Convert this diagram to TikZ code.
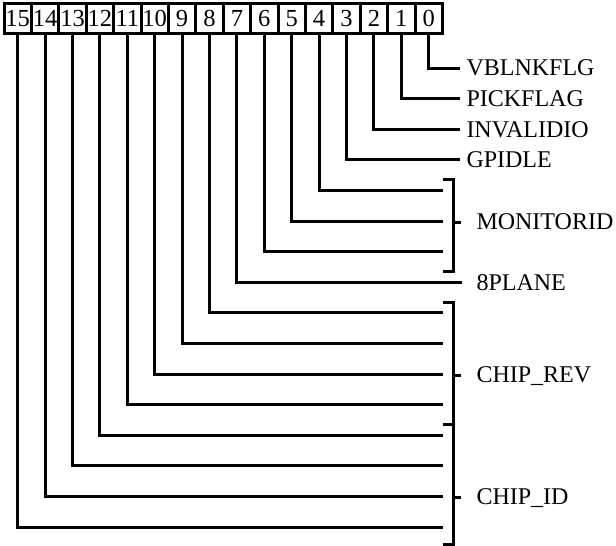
\documentclass[tikz,border=0pt]{standalone}
\usepackage{fontspec}
\setmainfont{Liberation Serif}
\begin{document}
\begin{tikzpicture}[x=1pt,y=-1pt,line width=3pt,
  bitbox/.style={draw,line width=3pt,minimum width=27.4pt,minimum height=30pt,inner sep=0pt,
    font=\fontsize{24.5}{24.5}\selectfont},
  lab/.style={anchor=west,inner sep=0pt,text height=15.9pt,text depth=0pt,
    font=\fontsize{24}{24}\selectfont},
  wire/.style={line width=3pt},
  brk/.style={line width=3pt}]
\useasboundingbox (0,0) rectangle (616,546);
% bit boxes
\foreach \i in {0,...,15}{
  \node[bitbox] (b\i) at ({4+27.4*(15-\i)+13.7},18.5) {\i};
}
% end points of wires that run into brackets
\foreach \i/\y in {4/190.4,5/221,6/251.6,8/312.8,9/343.4,10/374,11/404.6,12/435.2,13/465.8,14/496.4,15/527}{
  \coordinate (e\i) at (443,\y);
}
% labels
\node[lab] (l0) at (465,68) {VBLNKFLG};
\node[lab] (l1) at (465,98.6) {PICKFLAG};
\node[lab] (l2) at (465,129.2) {INVALIDIO};
\node[lab] (l3) at (465,159.8) {GPIDLE};
\node[lab] (mon) at (475,222) {MONITORID};
\node[lab] (p8) at (475,282.2) {8PLANE};
\node[lab] (rev) at (475,375) {CHIP\_REV};
\node[lab] (cid) at (475,497) {CHIP\_ID};
% single-bit wires
\foreach \i in {0,...,3}{
  \draw[wire] (b\i.south) |- ([xshift=-5pt]l\i.west);
}
\draw[wire] (b7.south) |- ([xshift=-13pt]p8.west);
% grouped wires
\foreach \i in {4,5,6,8,9,10,11,12,13,14,15}{
  \draw[wire] (b\i.south) |- (e\i);
}
% brackets
\coordinate (mt) at (443,179);
\coordinate (mb) at (443,271);
\draw[brk] (mt) -- ++(10,0) |- (mb);
\draw[brk] ([xshift=-22pt]mon.west) -- ([xshift=-14pt]mon.west);
\coordinate (rt) at (443,302);
\coordinate (rj) at (443,424);
\coordinate (cb) at (443,544.5);
\draw[brk] (rt) -- ++(10,0) |- (cb);
\draw[brk] (rj) -- ++(10,0);
\draw[brk] ([xshift=-22pt]rev.west) -- ([xshift=-14pt]rev.west);
\draw[brk] ([xshift=-22pt]cid.west) -- ([xshift=-14pt]cid.west);
\end{tikzpicture}
\end{document}
